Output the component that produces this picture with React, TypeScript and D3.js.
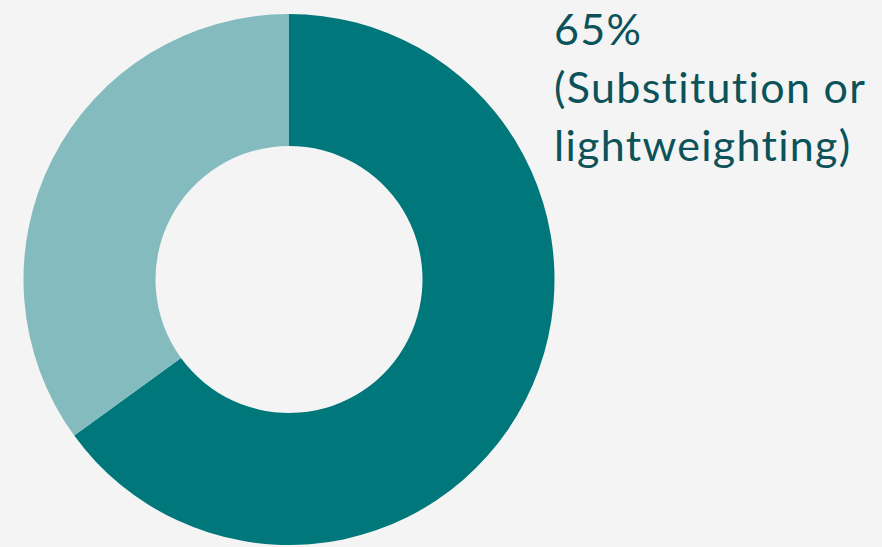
import React from "react";
import * as d3 from "d3";

const categories = ["Substitution or lightweighting", "Other"];
const values = [65, 35];
const colors = ["#00777b", "#84bbbf"];
const labelLines = ["65%", "(Substitution or", "lightweighting)"];

export default function App() {
  const width = 882;
  const height = 547;
  const cx = 289;
  const cy = 279.5;
  const outer = 265.5;
  const inner = 133.5;
  const pie = d3.pie<number>().sort(null).value((d) => d)(values);
  const arc = d3.arc<d3.PieArcDatum<number>>().innerRadius(inner).outerRadius(outer);
  return (
    <div style={{ position: "fixed", left: 0, top: 0, width, height, background: "#f4f4f4" }}>
      <svg width={width} height={height} style={{ display: "block" }}>
        <rect width={width} height={height} fill="#f4f4f4" />
        <g transform={`translate(${cx},${cy})`}>
          {pie.map((p, i) => (
            <path key={categories[i]} d={arc(p) || ""} fill={colors[i]} />
          ))}
        </g>
        <g fill="#0b5259" fontFamily="Lato, 'Open Sans', sans-serif" fontSize={43} letterSpacing={1.3}>
          {labelLines.map((t, i) => (
            <text key={i} x={554} y={45 + i * 58}>
              {t}
            </text>
          ))}
        </g>
      </svg>
    </div>
  );
}
